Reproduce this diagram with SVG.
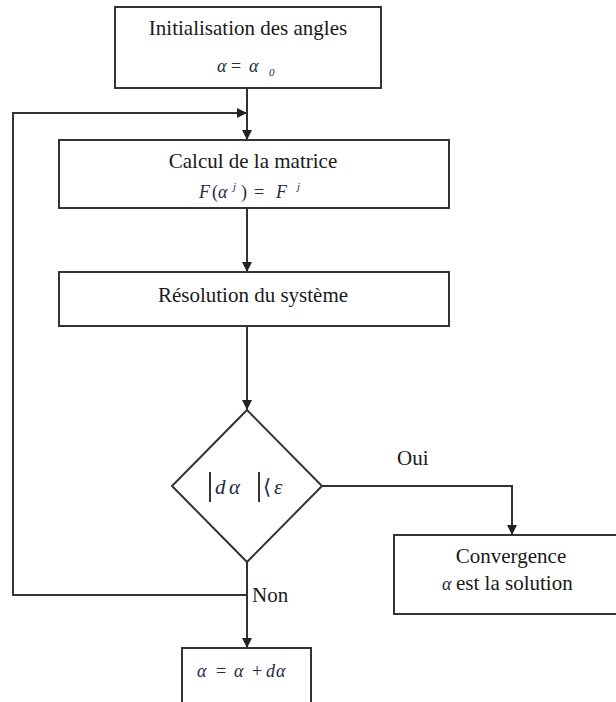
<svg xmlns="http://www.w3.org/2000/svg" width="616" height="702" viewBox="0 0 616 702">
  <defs>
    <marker id="arrow" viewBox="0 0 10 10" refX="10" refY="5" markerWidth="10" markerHeight="10" markerUnits="userSpaceOnUse" orient="auto">
      <path d="M0,0 L10,5 L0,10 Z" fill="#222"/>
    </marker>
    <style>
      .box { fill: #fff; stroke: #333; stroke-width: 2; }
      .link { fill: none; stroke: #333; stroke-width: 2; }
      .lbl { font-family: "Liberation Serif", "Times New Roman", serif; font-size: 21px; fill: #1a1a1a; }
      .math { font-family: "Liberation Serif", "Times New Roman", serif; font-style: italic; font-size: 18px; fill: #1f2a48; }
      .up { font-size: 11px; }
      .bar { stroke: #333; stroke-width: 2; }
    </style>
  </defs>
  <rect width="616" height="702" fill="#fff"/>

  <g id="connectors">
    <path class="link" d="M247,88 V140" marker-end="url(#arrow)"/>
    <path class="link" d="M247,208 V272" marker-end="url(#arrow)"/>
    <path class="link" d="M247,326 V410" marker-end="url(#arrow)"/>
    <path class="link" d="M322,486 H512 V535" marker-end="url(#arrow)"/>
    <path class="link" d="M247,562 V648" marker-end="url(#arrow)"/>
    <path class="link" d="M247,595 H13 V113 H247" marker-end="url(#arrow)"/>
    <text class="lbl" x="397" y="465">Oui</text>
    <text class="lbl" x="252" y="602">Non</text>
  </g>

  <g id="init">
    <rect class="box" x="115" y="7" width="266" height="81"/>
    <text class="lbl" x="248" y="35" text-anchor="middle">Initialisation des angles</text>
    <text class="math" x="217" y="72">α</text>
    <text class="math" x="231" y="72" style="font-style:normal">=</text>
    <text class="math" x="249" y="72">α</text>
    <text class="math up" x="269" y="76">0</text>
  </g>

  <g id="matrice">
    <rect class="box" x="59" y="140" width="390" height="68"/>
    <text class="lbl" x="253" y="168" text-anchor="middle">Calcul de la matrice</text>
    <text class="math" x="199" y="198">F</text>
    <text class="math" x="212" y="198" style="font-style:normal">(</text>
    <text class="math" x="218" y="198">α</text>
    <text class="math up" x="233" y="190">j</text>
    <text class="math" x="241" y="198" style="font-style:normal">)</text>
    <text class="math" x="254" y="198" style="font-style:normal">=</text>
    <text class="math" x="276" y="198">F</text>
    <text class="math up" x="297" y="190">j</text>
  </g>

  <g id="resolution">
    <rect class="box" x="59" y="272" width="390" height="54"/>
    <text class="lbl" x="253" y="302" text-anchor="middle">Résolution du système</text>
  </g>

  <g id="test">
    <polygon class="box" points="247,410 322,486 247,562 172,486"/>
    <line class="bar" x1="210" y1="472" x2="210" y2="502"/>
    <text class="math" x="215" y="494" style="font-size:21px">d</text>
    <text class="math" x="229" y="494" style="font-size:21px">α</text>
    <line class="bar" x1="259" y1="472" x2="259" y2="502"/>
    <text class="math" x="263" y="494" style="font-size:21px;font-style:normal">⟨</text>
    <text class="math" x="274" y="494" style="font-size:21px">ε</text>
  </g>

  <g id="convergence">
    <path class="box" d="M620,535 H394 V614 H620"/>
    <text class="lbl" x="511" y="563" text-anchor="middle">Convergence</text>
    <text class="math" x="442" y="590">α</text>
    <text class="lbl" x="456" y="590">est la solution</text>
  </g>

  <g id="update">
    <path class="box" d="M182,710 V648 H311 V710"/>
    <text class="math" x="197" y="677">α</text>
    <text class="math" x="216" y="677" style="font-style:normal">=</text>
    <text class="math" x="234" y="677">α</text>
    <text class="math" x="252" y="677" style="font-style:normal">+</text>
    <text class="math" x="266" y="677">d</text>
    <text class="math" x="276" y="677">α</text>
  </g>
</svg>
